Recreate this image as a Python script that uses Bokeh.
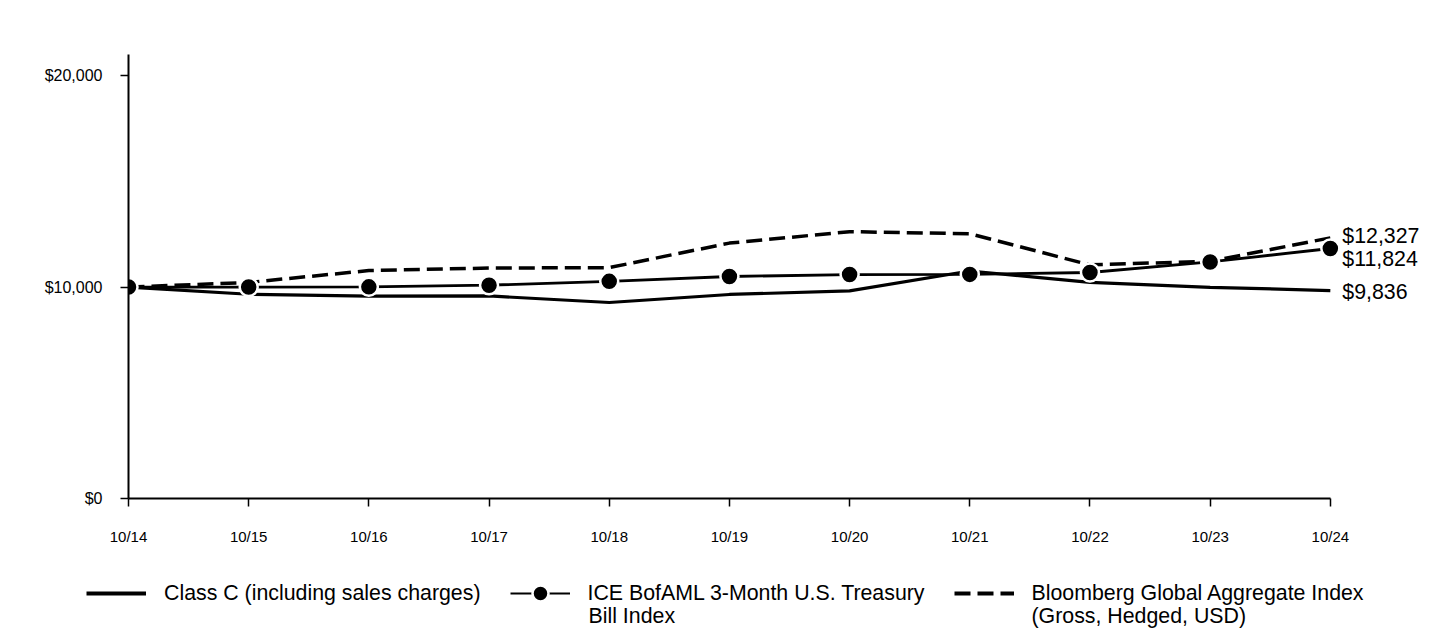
from bokeh.plotting import figure
from bokeh.models import (Range1d, FixedTicker, Legend, LegendItem, LabelSet, Label,
                          ColumnDataSource, NumeralTickFormatter)
from bokeh.core.properties import value
from bokeh.embed import file_html
from bokeh.resources import INLINE

# ---- data ----
periods = ["10/14", "10/15", "10/16", "10/17", "10/18", "10/19",
           "10/20", "10/21", "10/22", "10/23", "10/24"]
class_c = [10000, 9660, 9570, 9580, 9270, 9650, 9820, 10760, 10220, 9990, 9836]
treasury = [10000, 10000, 10010, 10090, 10270, 10500, 10590, 10600, 10690, 11190, 11824]
bloomberg = [10000, 10220, 10780, 10900, 10920, 12080, 12620, 12520, 11050, 11220, 12327]
y_ticks = [0, 10000, 20000]
series_first_lines = ["Class C (including sales charges)",
                      "ICE BofAML 3-Month U.S. Treasury",
                      "Bloomberg Global Aggregate Index"]
series_second_lines = ["", "Bill Index", "(Gross, Hedged, USD)"]

FONT = "Liberation Sans"
LEG_FS = "21.33px"
xs = list(range(len(periods)))
last = len(periods) - 1

STYLE_C = dict(line_color="black", line_width=3.2)
STYLE_B = dict(line_color="black", line_width=3.5, line_dash="16 7")
STYLE_TL = dict(line_color="black", line_width=2.8)
STYLE_TS = dict(size=18, marker="circle", fill_color="black",
                line_color="white", line_width=2.5)

p = figure(width=1440, height=560, output_backend="svg", toolbar_location=None,
           title=None, x_range=Range1d(0, last + 0.9), y_range=Range1d(0, 21000),
           min_border_left=128, min_border_right=2, min_border_top=54,
           min_border_bottom=62)
p.outline_line_color = None
p.grid.visible = False

# axes
p.xaxis.ticker = FixedTicker(ticks=xs)
p.xaxis.bounds = (0, last)
p.xaxis.major_label_overrides = {i: t for i, t in enumerate(periods)}
p.yaxis.ticker = FixedTicker(ticks=y_ticks)
p.yaxis.formatter = NumeralTickFormatter(format="$0,0")
for ax in (p.xaxis, p.yaxis):
    ax.axis_line_width = 2
    ax.axis_line_color = "black"
    ax.major_tick_line_color = "black"
    ax.major_tick_line_width = 1.5
    ax.major_tick_out = 8
    ax.major_tick_in = 0
    ax.minor_tick_line_color = None
    ax.major_label_text_font = FONT
    ax.major_label_text_color = "black"
p.xaxis.major_label_text_font_size = "15px"
p.yaxis.major_label_text_font_size = "16px"
p.xaxis.major_label_standoff = 21
p.yaxis.major_label_standoff = 18

# series
p.line(xs, class_c, **STYLE_C)
p.line(xs, bloomberg, **STYLE_B)
p.line(xs, treasury, **STYLE_TL)
p.scatter(xs, treasury, **STYLE_TS)

# end labels (small vertical nudges keep them apart)
end_vals = [bloomberg[-1], treasury[-1], class_c[-1]]
end_src = ColumnDataSource(dict(
    x=[last] * 3,
    y=end_vals,
    text=["${:,}".format(v) for v in end_vals],
    dy=[2, -10, -1],
))
p.add_layout(LabelSet(x="x", y="y", text="text", source=end_src, x_offset=12,
                      y_offset="dy", text_baseline="middle", text_font=value(FONT),
                      text_font_size=value(LEG_FS), text_color="black"))

# ---- legend figure (separate root, hidden proxies of the series) ----
lg = figure(width=1440, height=72, output_backend="svg", toolbar_location=None,
            title=None, x_range=Range1d(0, 1), y_range=Range1d(0, 1),
            min_border_left=0, min_border_right=0, min_border_top=0,
            min_border_bottom=0)
lg.axis.visible = False
lg.grid.visible = False
lg.outline_line_color = None
l_c = lg.line(xs, class_c, visible=False, line_color="black", line_width=4)
l_tl = lg.line(xs, treasury, visible=False, line_color="black", line_width=2)
l_ts = lg.scatter(xs, treasury, visible=False, **STYLE_TS)
l_b = lg.line(xs, bloomberg, visible=False, line_color="black", line_width=4,
              line_dash="16 7")

legend = Legend(items=[
    LegendItem(label=series_first_lines[0], renderers=[l_c]),
    LegendItem(label=series_first_lines[1], renderers=[l_tl, l_ts]),
    LegendItem(label=series_first_lines[2], renderers=[l_b]),
], orientation="horizontal", location=(86, 19),
    label_text_font=FONT, label_text_font_size=LEG_FS, label_text_color="black",
    glyph_width=60, glyph_height=40, label_standoff=18, spacing=29,
    border_line_color=None, background_fill_alpha=0, padding=0, margin=0)
lg.add_layout(legend, "center")

# second lines of the wrapped legend labels
for x_px, txt in zip([None, 588, 1031], series_second_lines):
    if txt:
        lg.add_layout(Label(x=x_px, y=17, x_units="screen", y_units="screen",
                            text=txt, text_font=FONT, text_font_size=LEG_FS,
                            text_baseline="middle", text_color="black"))

open("out.html", "w").write(file_html([p, lg], INLINE))
